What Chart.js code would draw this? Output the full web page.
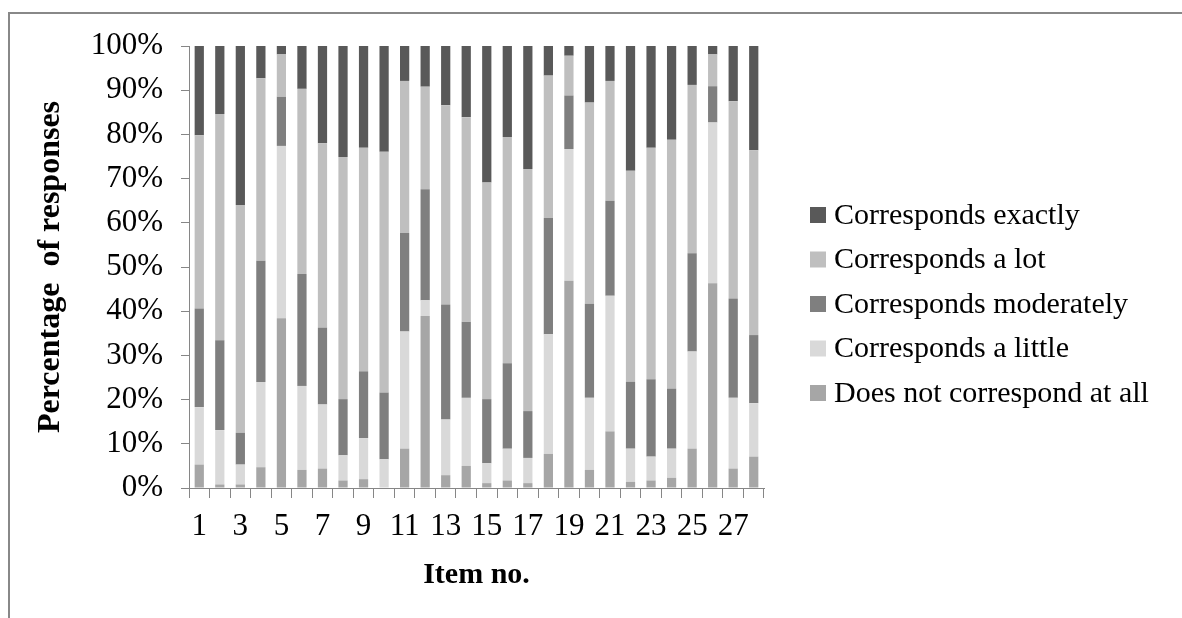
<!DOCTYPE html>
<html>
<head>
<meta charset="utf-8">
<style>
  html, body { margin: 0; padding: 0; background: #ffffff; }
  #wrap { position: relative; width: 1182px; height: 618px; }
  canvas { display: block; }
</style>
<script src="https://cdn.jsdelivr.net/npm/chart.js@4.4.1/dist/chart.umd.min.js"></script>
</head>
<body>
<div id="wrap"><canvas id="chart" width="1182" height="618"></canvas></div>
<script>
// Item numbers on the x axis
const items = [1, 2, 3, 4, 5, 6, 7, 8, 9, 10, 11, 12, 13, 14, 15, 16, 17, 18, 19, 20, 21, 22, 23, 24, 25, 26, 27, 28];

// Share of responses per item (%), one array per answer category
const notAtAll   = [5.3, 0.8, 0.8, 4.7, 38.4, 4.1, 4.4, 1.7, 2.0, 0.0, 8.9, 38.9, 2.9, 5.0, 1.1, 1.7, 1.1, 7.7, 46.9, 4.1, 12.8, 1.4, 1.7, 2.3, 8.9, 46.3, 4.4, 7.1];
const aLittle    = [13.0, 12.3, 4.5, 19.3, 39.0, 19.0, 14.5, 5.7, 9.3, 6.5, 26.5, 3.6, 12.6, 15.4, 4.5, 7.2, 5.7, 27.1, 29.8, 16.3, 30.7, 7.5, 5.4, 6.6, 22.0, 36.4, 16.0, 12.1];
const moderately = [22.3, 20.3, 7.2, 27.4, 11.1, 25.3, 17.4, 12.7, 15.1, 15.1, 22.3, 25.1, 26.0, 17.2, 14.5, 19.3, 10.6, 26.3, 12.1, 21.3, 21.5, 15.1, 17.5, 13.6, 22.2, 8.2, 22.5, 15.4];
const aLot       = [39.2, 51.2, 51.5, 41.3, 9.6, 41.9, 41.7, 54.8, 50.6, 54.5, 34.4, 23.2, 45.1, 46.3, 49.0, 51.2, 54.8, 32.2, 9.0, 45.5, 27.1, 47.8, 52.4, 56.3, 38.1, 7.2, 44.6, 41.8];
const exactly    = [20.2, 15.4, 36.0, 7.3, 1.9, 9.7, 22.0, 25.1, 23.0, 23.9, 7.9, 9.2, 13.4, 16.1, 30.9, 20.6, 27.8, 6.7, 2.2, 12.8, 7.9, 28.2, 23.0, 21.2, 8.8, 1.9, 12.5, 23.6];

// Percentage ticks on the y axis
const yTicks = [0, 10, 20, 30, 40, 50, 60, 70, 80, 90, 100];

const serif = "'Liberation Serif', 'Times New Roman', serif";
const axisGray = '#868686';

// Thin grey frame along the top and left edges of the figure
const framePlugin = {
  id: 'frame',
  beforeDraw(chart) {
    const ctx = chart.ctx;
    ctx.save();
    ctx.fillStyle = '#888888';
    ctx.fillRect(8, 12, chart.width - 8, 2);
    ctx.fillRect(8, 12, 2, chart.height - 12);
    ctx.restore();
  }
};

// Legend listed top-down from the uppermost stack segment
const sideLegend = {
  id: 'sideLegend',
  afterDraw(chart, args, opts) {
    const ctx = chart.ctx;
    const sets = chart.data.datasets.slice().reverse();
    ctx.save();
    ctx.font = opts.fontSize + 'px ' + serif;
    ctx.textBaseline = 'middle';
    ctx.textAlign = 'left';
    sets.forEach((d, i) => {
      const cy = opts.top + i * opts.rowGap;
      ctx.fillStyle = d.backgroundColor;
      ctx.fillRect(opts.left, cy - opts.box / 2, opts.box, opts.box);
      ctx.fillStyle = '#000000';
      ctx.fillText(d.label, opts.left + opts.box + opts.gap, cy + 1);
    });
    ctx.restore();
  }
};

const datasets = [
  { label: 'Does not correspond at all', data: notAtAll,   backgroundColor: '#a6a6a6' },
  { label: 'Corresponds a little',       data: aLittle,    backgroundColor: '#d9d9d9' },
  { label: 'Corresponds moderately',     data: moderately, backgroundColor: '#7f7f7f' },
  { label: 'Corresponds a lot',          data: aLot,       backgroundColor: '#bfbfbf' },
  { label: 'Corresponds exactly',        data: exactly,    backgroundColor: '#595959' }
];

new Chart(document.getElementById('chart'), {
  type: 'bar',
  data: { labels: items, datasets: datasets.map(d => ({ ...d, barPercentage: 0.45, categoryPercentage: 1.0, borderWidth: 0 })) },
  options: {
    responsive: false,
    animation: false,
    devicePixelRatio: 1,
    layout: { padding: { top: 46, right: 418, bottom: 0, left: 0 } },
    plugins: {
      legend: { display: false },
      tooltip: { enabled: false },
      sideLegend: { left: 810, top: 215, rowGap: 44.5, box: 16, gap: 8, fontSize: 30 }
    },
    scales: {
      x: {
        stacked: true,
        grid: { offset: true, drawOnChartArea: false, drawTicks: true, tickLength: 10, color: axisGray, lineWidth: 1 },
        border: { color: axisGray, width: 1 },
        ticks: {
          autoSkip: false, maxRotation: 0, minRotation: 0, padding: 10, color: '#000000',
          font: { family: serif, size: 31 },
          callback: (v, i) => (i % 2 === 0 ? String(items[i]) : '')
        },
        title: { display: true, text: 'Item no.', color: '#000000', font: { family: serif, size: 30, weight: 'bold' }, padding: { top: 0, bottom: 25 } },
        afterFit: s => { s.height = 130; }
      },
      y: {
        stacked: true,
        min: 0, max: 100,
        afterBuildTicks: s => { s.ticks = yTicks.map(v => ({ value: v })); },
        grid: { drawOnChartArea: false, drawTicks: true, tickLength: 8, color: axisGray, lineWidth: 1 },
        border: { color: axisGray, width: 1 },
        ticks: { padding: 18, color: '#000000', font: { family: serif, size: 31 }, callback: v => v + '%' },
        title: { display: true, text: 'Percentage  of responses', color: '#000000', font: { family: serif, size: 32, weight: 'bold' }, padding: { top: 32, bottom: 0 } },
        afterFit: s => { s.width = 189; }
      }
    }
  },
  plugins: [framePlugin, sideLegend]
});
</script>
</body>
</html>
